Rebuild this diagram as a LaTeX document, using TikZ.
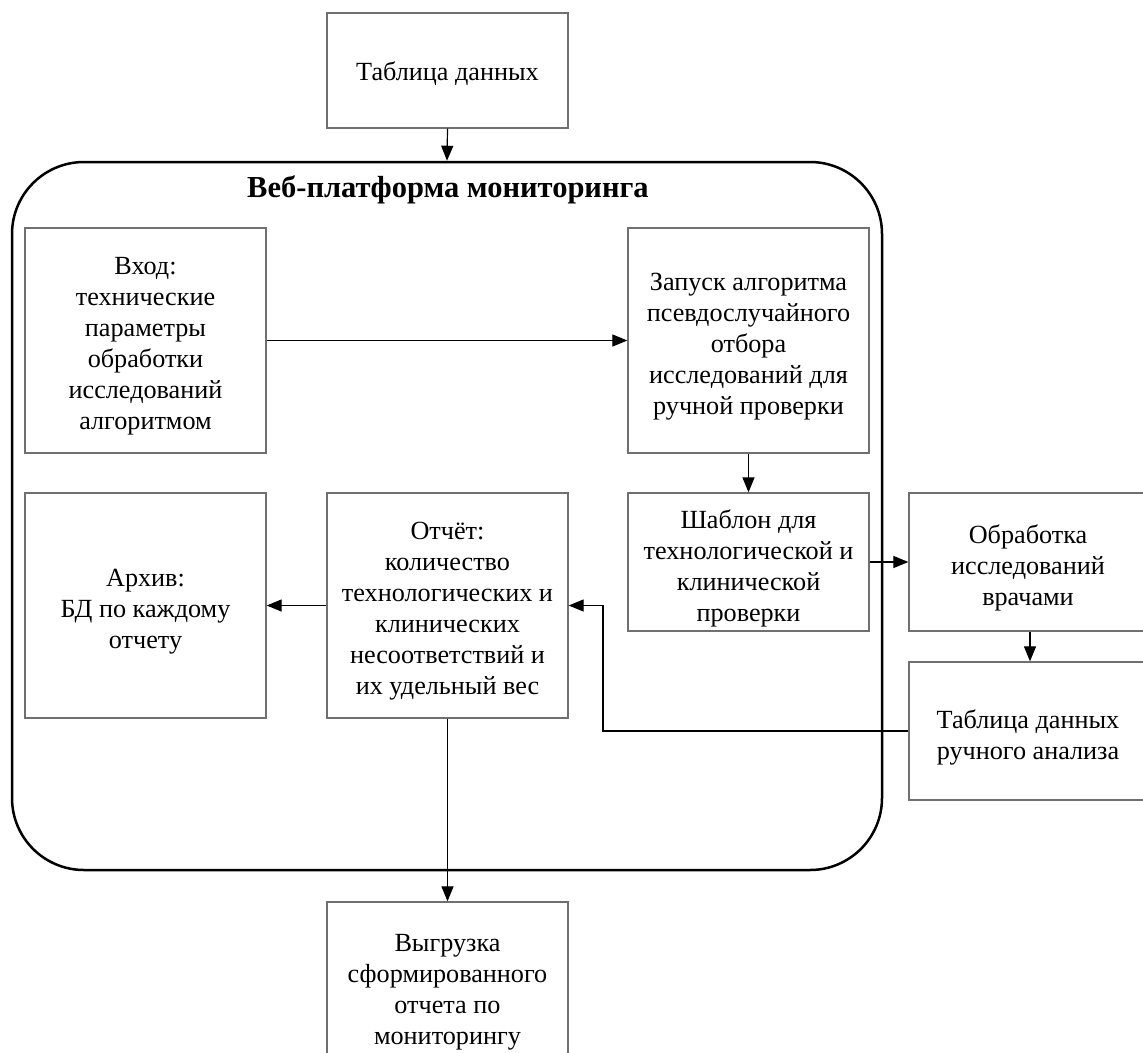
\documentclass[tikz,border=0pt]{standalone}
\usepackage{fontspec}
\setmainfont{Liberation Serif}
\usetikzlibrary{arrows.meta}
\definecolor{boxgray}{RGB}{112,112,112}
\begin{document}
\begin{tikzpicture}[x=1pt,y=-1pt,
  every node/.style={font=\fontsize{26.2}{31}\selectfont},
  box/.style={draw=boxgray, line width=1.3pt, inner sep=0pt},
  txt/.style={align=center, inner sep=0pt},
  arr/.style={draw=black, line width=1.2pt, -{Triangle[length=15pt,width=12pt]}},
]
\clip (0,0) rectangle (1143,1052);
\fill[white] (0,0) rectangle (1143,1052);

% container
\node[draw=black, line width=2.5pt, rounded corners=72pt, minimum width=870pt, minimum height=708pt, inner sep=0pt] (platform) at (447,516) {};
\node[font=\fontsize{30.5}{34}\selectfont\bfseries] (title) at (448,190) {Веб-платформа мониторинга};

% boxes
\node[box, minimum width=241pt, minimum height=115pt] (table) at (447.5,70.5) {};
\node[box, minimum width=241pt, minimum height=225pt] (input) at (145.5,340.5) {};
\node[box, minimum width=241pt, minimum height=225pt] (launch) at (748.5,340.5) {};
\node[box, minimum width=241pt, minimum height=138pt] (templ) at (748.5,562) {};
\node[box, minimum width=241pt, minimum height=225pt] (archive) at (145.5,605.5) {};
\node[box, minimum width=241pt, minimum height=225pt] (report) at (447.5,605.5) {};
\node[box, minimum width=238pt, minimum height=138pt] (doctors) at (1028,562) {};
\node[box, minimum width=238pt, minimum height=138pt] (manual) at (1028,731) {};
\node[box, minimum width=241pt, minimum height=172pt] (export) at (447.5,988) {};

% texts
\node[txt] (tableT) at ([yshift=-3pt]table.center) {Таблица данных};
\node[txt] (inputT) at ([yshift=-6pt]input.center) {Вход:\\технические\\параметры\\обработки\\исследований\\алгоритмом};
\node[txt] (launchT) at ([yshift=-6pt]launch.center) {Запуск алгоритма\\псевдослучайного\\отбора\\исследований для\\ручной проверки};
\node[txt] (templT) at ([yshift=-6pt]templ.center) {Шаблон для\\технологической и\\клинической\\проверки};
\node[txt] (archiveT) at ([yshift=-6pt]archive.center) {Архив:\\БД по каждому\\отчету};
\node[txt] (reportT) at ([yshift=-6pt]report.center) {Отчёт:\\количество\\технологических и\\клинических\\несоответствий и\\их удельный вес};
\node[txt] (doctorsT) at ([yshift=-6pt]doctors.center) {Обработка\\исследований\\врачами};
\node[txt] (manualT) at ([yshift=-6pt]manual.center) {Таблица данных\\ручного анализа};
\node[txt] (exportT) at ([yshift=-4pt]export.center) {Выгрузка\\сформированного\\отчета по\\мониторингу};

% connectors
\draw[arr] (table.south) -- (platform.north);
\draw[arr] (input.east) -- (launch.west);
\draw[arr] (launch.south) -- (templ.north);
\draw[arr] (templ.east) -- (doctors.west);
\draw[arr] (doctors.south -| 1030,0) -- (manual.north -| 1030,0);
\coordinate (bend) at (603,605.5);
\draw[arr] (manual.west) -| (bend) -- (report.east);
\draw[arr] (report.west) -- (archive.east);
\draw[arr] (report.south) -- (export.north);
\end{tikzpicture}
\end{document}
